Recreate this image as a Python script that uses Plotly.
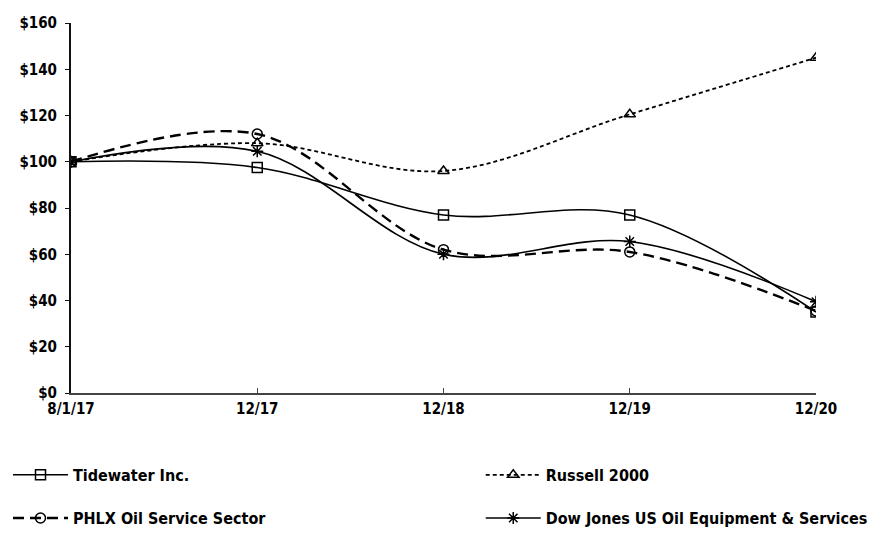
import plotly.graph_objects as go

categories = ["8/1/17", "12/17", "12/18", "12/19", "12/20"]
tidewater = [100, 97.5, 77, 77, 35]
russell = [100, 108, 96, 120.5, 145]
phlx = [100, 112, 62, 61, 35.5]
dowjones = [100, 104.5, 60, 65.5, 39.5]

FONT = "DejaVu Sans Condensed, Liberation Sans Narrow, Arial Narrow, sans-serif"

series = [
    ("Tidewater Inc.", tidewater, "solid", "square-open", 1.6, "legend"),
    ("Russell 2000", russell, "4px,3px", "triangle-up-open", 1.8, "legend2"),
    ("PHLX Oil Service Sector", phlx, "11px,6px", "circle-open", 2.4, "legend3"),
    ("Dow Jones US Oil Equipment & Services", dowjones, "solid", "asterisk-open", 1.6, "legend4"),
]

fig = go.Figure()
for name, vals, dash, sym, w, lg in series:
    fig.add_trace(go.Scatter(
        x=list(range(len(categories))), y=vals, name=name, mode="lines+markers",
        line=dict(color="black", width=w, dash=dash, shape="spline", smoothing=1),
        marker=dict(symbol=sym, size=10, color="black", line=dict(color="black", width=1.5)),
        legend=lg,
    ))

def leg(x, y):
    return dict(orientation="h", xref="container", yref="container",
                x=x, y=y, xanchor="left", yanchor="middle",
                font=dict(family=FONT, size=16, color="black", weight="bold"),
                bgcolor="rgba(0,0,0,0)", itemwidth=55, borderwidth=0)

fig.update_layout(
    width=882, height=533,
    margin=dict(l=63, r=74, t=15, b=148, autoexpand=False),
    plot_bgcolor="white", paper_bgcolor="white",
    showlegend=True,
    legend=leg(-0.013, 0.124),
    legend2=leg(0.536, 0.124),
    legend3=leg(-0.013, 0.043),
    legend4=leg(0.536, 0.043),
    xaxis=dict(
        tickmode="array", tickvals=list(range(len(categories))), ticktext=categories,
        range=[0, 4], showgrid=False, zeroline=False,
        showline=True, linecolor="#444", linewidth=1.5,
        ticks="inside", ticklen=5, tickcolor="#444", ticklabelstandoff=1,
        tickfont=dict(family=FONT, size=15, color="black", weight="bold"),
    ),
    yaxis=dict(
        range=[0, 160], dtick=20, tickprefix="$", showgrid=False, zeroline=False,
        showline=True, linecolor="#111", linewidth=2,
        ticks="outside", ticklen=4, tickcolor="#111", ticklabelstandoff=5,
        tickfont=dict(family=FONT, size=15, color="black", weight="bold"),
    ),
)

fig.write_html("out.html")
